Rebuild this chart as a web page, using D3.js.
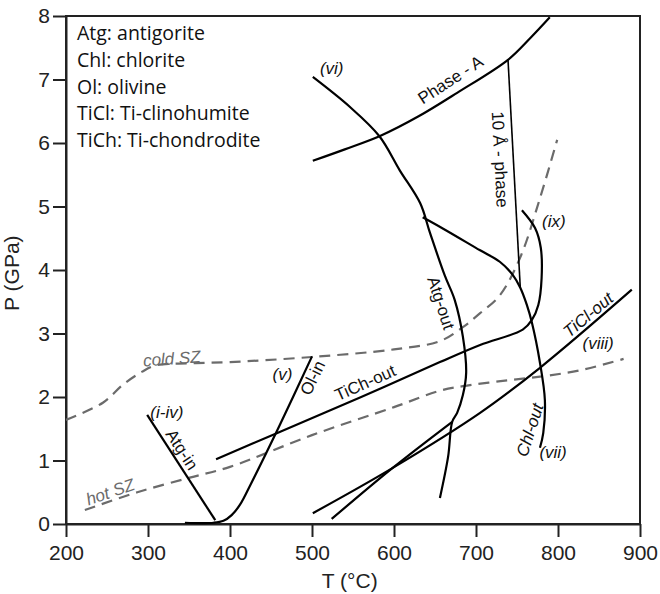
<!DOCTYPE html>
<html>
<head>
<meta charset="utf-8">
<script src="https://cdn.jsdelivr.net/npm/d3@7"></script>
<style>
  body { margin: 0; background: #fff; }
  text { font-family: "Liberation Sans", Arial, sans-serif; }
</style>
</head>
<body>
<div id="chart"></div>
<script>
// axis ticks
const xTicks = [200, 300, 400, 500, 600, 700, 800, 900];
const yTicks = [0, 1, 2, 3, 4, 5, 6, 7, 8];

// abbreviations box
const legendLines = ["Atg: antigorite", "Chl: chlorite", "Ol: olivine", "TiCl: Ti-clinohumite", "TiCh: Ti-chondrodite"];

// curves, [T (°C), P (GPa)]
const coldSZ = [[200,1.64],[245,1.91],[270,2.2],[293,2.4],[310,2.5],[350,2.53],[400,2.55],[500,2.63],[600,2.75],[656,2.88],[684,3.1],[705,3.32],[729,3.6],[754,4.2],[778,5.13],[799,6.05]];
const hotSZ = [[223,0.22],[287,0.5],[351,0.73],[400,0.9],[500,1.4],[600,1.84],[656,2.1],[684,2.17],[730,2.25],[778,2.32],[827,2.42],[880,2.6]];
const atgIn = [[299,1.72],[382,0.06]];
const olIn = [[345,0.02],[380,0.02],[392,0.05],[402,0.14],[412,0.3],[425,0.62],[460,1.54],[500,2.64]];
const tiChOut = [[383,1.02],[457,1.43],[560,2.0],[656,2.55],[705,2.82],[757,3.06],[768,3.21],[776,3.45],[780,3.87],[779,4.35],[772,4.66],[756,4.94]];
const chlOut = [[635,4.83],[660,4.65],[705,4.31],[729,4.13],[745,3.92],[754,3.72],[762,3.45],[768,3.18],[778,2.54],[784,1.95],[782,1.43],[778,1.2]];
const tenA = [[739,7.32],[754,3.72]];
const phaseA = [[501,5.72],[540,5.9],[583,6.11],[630,6.42],[677,6.79],[739,7.31],[766,7.65],[790,7.98]];
const atgOut = [[501,7.04],[546,6.57],[582,6.11],[607,5.57],[632,5.05],[644,4.58],[662,3.91],[674,3.53],[684,2.95],[688,2.38],[684,2.03],[677,1.75],[671,1.61],[666,1.06],[656,0.41]];
const lineB = [[524,0.08],[598,0.88],[671,1.61]];
const tiClOut = [[501,0.17],[598,0.88],[705,1.75],[778,2.46],[890,3.69]];

// curve labels: text, T, P, angle, italic, grey
const labels = [
  ["(vi)", 524, 7.17, 0, true, false],
  ["Phase - A", 669, 6.99, -33, false, false],
  ["10 Å - phase", 729, 5.74, 87, false, false],
  ["(ix)", 795, 4.76, 0, true, false],
  ["Atg-out", 657, 3.48, 72, false, false],
  ["TiCh-out", 565, 2.22, -24, false, false],
  ["Ol-in", 501, 2.3, -64, false, false],
  ["(v)", 464, 2.35, 0, true, false],
  ["(i-iv)", 323, 1.76, 0, true, false],
  ["Atg-in", 341, 1.17, 57, false, false],
  ["cold SZ", 329, 2.6, -4, true, true],
  ["hot SZ", 254, 0.5, -19, true, true],
  ["TiCl-out", 837, 3.29, -40, true, false],
  ["(viii)", 849, 2.85, 0, true, false],
  ["Chl-out", 766, 1.48, -72, true, false],
  ["(vii)", 794, 1.12, 0, true, false]
];

const width = 660, height = 594;
const margin = {top: 16, right: 20, bottom: 70, left: 66};

const svg = d3.select("#chart")
  .append("svg")
    .attr("width", width)
    .attr("height", height);

const x = d3.scaleLinear().domain([200, 900]).range([margin.left, width - margin.right]);
const y = d3.scaleLinear().domain([0, 8]).range([height - margin.bottom, margin.top]);

// frame
svg.append("rect")
  .attr("x", x(200)).attr("y", y(8))
  .attr("width", x(900) - x(200)).attr("height", y(0) - y(8))
  .attr("fill", "none").attr("stroke", "#222").attr("stroke-width", 2);

// axes
const xAxis = svg.append("g")
  .attr("transform", `translate(0,${y(0)})`)
  .call(d3.axisBottom(x).tickValues(xTicks).tickSize(13).tickPadding(8).tickSizeOuter(0));
const yAxis = svg.append("g")
  .attr("transform", `translate(${x(200)},0)`)
  .call(d3.axisLeft(y).tickValues(yTicks).tickSize(13).tickPadding(3).tickSizeOuter(0));

[xAxis, yAxis].forEach(ax => {
  ax.selectAll("path, line").attr("stroke", "#222").attr("stroke-width", 2);
  ax.selectAll("text")
    .attr("fill", "#222")
    .style("font-size", "21px")
    .style("font-family", "'Liberation Sans', Arial, sans-serif");
});

svg.append("text")
  .attr("x", x(546)).attr("y", 588)
  .attr("text-anchor", "middle")
  .attr("fill", "#222")
  .style("font-size", "21px")
  .text("T (°C)");

svg.append("text")
  .attr("transform", `translate(19,${y(3.95)}) rotate(-90)`)
  .attr("text-anchor", "middle")
  .attr("fill", "#222")
  .style("font-size", "21px")
  .text("P (GPa)");

// lines
const smooth = d3.line().x(d => x(d[0])).y(d => y(d[1])).curve(d3.curveCatmullRom.alpha(0.5));
const straight = d3.line().x(d => x(d[0])).y(d => y(d[1]));

const curves = [
  {d: coldSZ, gen: smooth, dashed: true},
  {d: hotSZ, gen: smooth, dashed: true},
  {d: atgIn, gen: straight},
  {d: olIn, gen: smooth},
  {d: tiChOut, gen: smooth},
  {d: chlOut, gen: smooth},
  {d: tenA, gen: straight, thin: true},
  {d: phaseA, gen: smooth},
  {d: atgOut, gen: smooth},
  {d: lineB, gen: smooth},
  {d: tiClOut, gen: smooth}
];

svg.append("g")
  .selectAll("path")
  .data(curves)
  .join("path")
    .attr("d", c => c.gen(c.d))
    .attr("fill", "none")
    .attr("stroke", c => c.dashed ? "#6b6b6b" : "#000")
    .attr("stroke-width", c => c.thin ? 1.6 : 2.2)
    .attr("stroke-dasharray", c => c.dashed ? "11,7" : null);

// labels on curves
svg.append("g")
  .selectAll("text")
  .data(labels)
  .join("text")
    .attr("transform", d => `translate(${x(d[1])},${y(d[2])}) rotate(${d[3]})`)
    .attr("text-anchor", "middle")
    .attr("dominant-baseline", "central")
    .attr("fill", d => d[5] ? "#6b6b6b" : "#111")
    .style("font-size", "17px")
    .style("font-style", d => d[4] ? "italic" : "normal")
    .text(d => d[0]);

// abbreviations
svg.append("g")
  .selectAll("text")
  .data(legendLines)
  .join("text")
    .attr("x", 77)
    .attr("y", (d, i) => 40 + i * 26.8)
    .attr("fill", "#111")
    .style("font-family", "'Open Sans', sans-serif")
    .style("font-size", "19.5px")
    .text(d => d);
</script>
</body>
</html>
